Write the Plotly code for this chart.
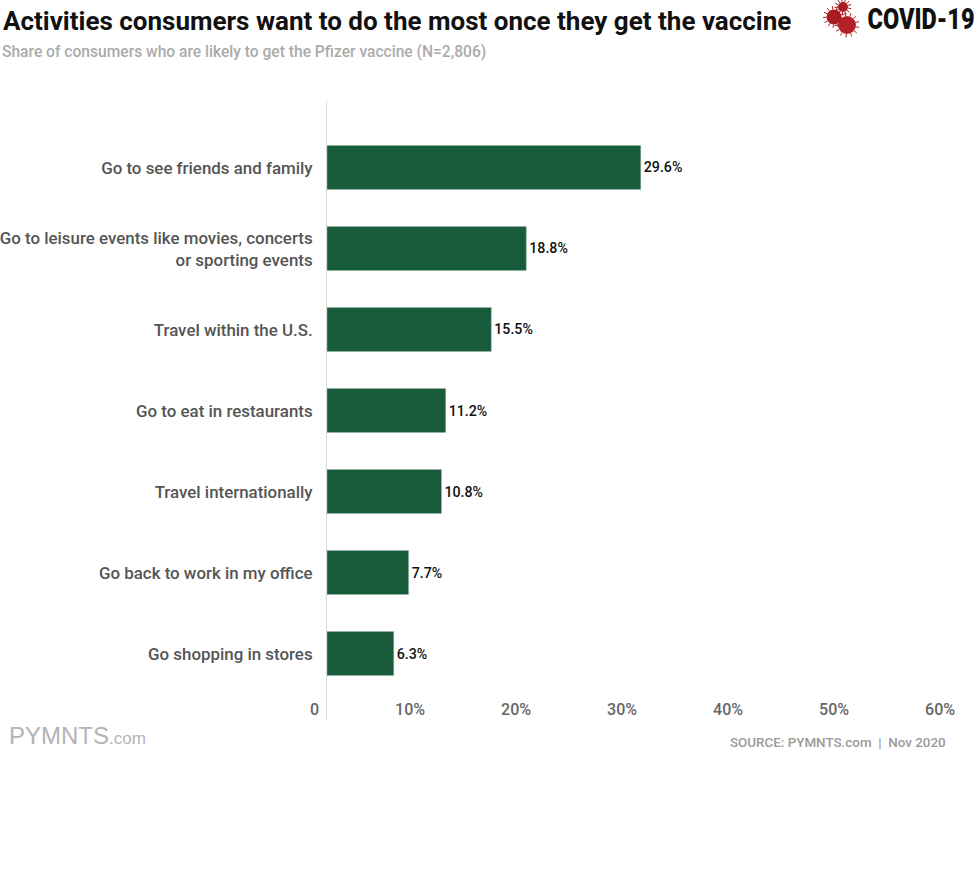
import math
import plotly.graph_objects as go

categories = [
    "Go to see friends and family",
    "Go to leisure events like movies, concerts<br>or sporting events",
    "Travel within the U.S.",
    "Go to eat in restaurants",
    "Travel internationally",
    "Go back to work in my office",
    "Go shopping in stores",
]
values = [29.6, 18.8, 15.5, 11.2, 10.8, 7.7, 6.3]
value_labels = ["29.6%", "18.8%", "15.5%", "11.2%", "10.8%", "7.7%", "6.3%"]
x_ticks = [0, 10, 20, 30, 40, 50, 60]
x_tick_labels = ["0", "10%", "20%", "30%", "40%", "50%", "60%"]

W, H = 977, 877
L, R, T, B = 327, 963, 101, 720
FONT = "Roboto, sans-serif"


def fx(v):
    return (v - L) / (R - L)


def fy(v):
    return (B - v) / (B - T)


fig = go.Figure(
    go.Bar(
        x=values,
        y=categories,
        orientation="h",
        width=0.543,
        marker=dict(color="#185C3C", line=dict(color="#9DB8AB", width=0.5)),
        text=value_labels,
        textposition="outside",
        cliponaxis=False,
        textfont=dict(family=FONT, size=14.2, color="#111111", weight=500),
        hoverinfo="skip",
    )
)

# Decorative logo glyph (three spiky discs)
shapes = []
for cx, cy, r, col in [(834, 17, 7.5, "#A81C22"), (843, 7, 5, "#A81C22"), (847, 25, 9, "#B5202A")]:
    shapes.append(dict(type="circle", xref="paper", yref="paper",
                       x0=fx(cx - r), x1=fx(cx + r), y0=fy(cy + r), y1=fy(cy - r),
                       fillcolor=col, line=dict(width=0), layer="above"))
    for i in range(13):
        a = 2 * math.pi * i / 13 + 0.2
        shapes.append(dict(type="line", xref="paper", yref="paper",
                           x0=fx(cx + r * math.cos(a)), y0=fy(cy + r * math.sin(a)),
                           x1=fx(cx + (r + 3.5) * math.cos(a)), y1=fy(cy + (r + 3.5) * math.sin(a)),
                           line=dict(color=col, width=1), layer="above"))


def page_text(text, x, y, size, color, anchor="left", weight=400, family=FONT):
    return dict(
        text=text, xref="paper", yref="paper",
        x=fx(x), y=fy(y),
        xanchor=anchor, yanchor="middle", showarrow=False,
        font=dict(family=family, size=size, color=color, weight=weight),
    )


annotations = [
    page_text("Activities consumers want to do the most once they get the vaccine", 1, 21, 26, "#111111", weight=700),
    page_text("Share of consumers who are likely to get the Pfizer vaccine (N=2,806)", 0, 52, 15.6, "#ABABAB", weight=500),
    page_text("COVID-19", 920.5, 19, 29, "#111111", anchor="center", weight=900),
    page_text("PYMNTS<span style='font-size:17px'>.com</span>", 7, 735, 24, "#B4B4B4", weight=400, family="'Liberation Sans', sans-serif"),
    page_text("SOURCE: PYMNTS.com  |  Nov 2020", 948, 742, 13.4, "#9A9A9A", anchor="right", weight=500),
]

fig.update_layout(
    width=W, height=H,
    margin=dict(l=L, r=W - R, t=T, b=H - B, autoexpand=False),
    paper_bgcolor="white", plot_bgcolor="white",
    showlegend=False,
    font=dict(family=FONT),
    shapes=shapes,
    annotations=annotations,
    xaxis=dict(
        range=[0, 60], tickmode="array", tickvals=x_ticks, ticktext=x_tick_labels,
        ticklabelposition="inside left", ticklabeloverflow="allow", ticklabelshift=-8,
        ticklabelstandoff=-4, showgrid=False, zeroline=False, ticks="", showline=False,
        tickfont=dict(family=FONT, size=16, color="#666666", weight=500),
    ),
    yaxis=dict(
        range=[6.82, -0.82], type="category", categoryorder="array", categoryarray=categories,
        showgrid=False, zeroline=False, ticks="", ticklen=0, ticklabelstandoff=10, ticklabelshift=-1,
        showline=True, linecolor="#D8D8D8", linewidth=1,
        tickfont=dict(family=FONT, size=16.9, color="#555555", weight=500),
    ),
)

post = """
document.body.style.margin='0';
document.documentElement.style.overflow='hidden';
document.querySelectorAll('.annotation-text').forEach(function(t){
  if (t.textContent === 'COVID-19') {
    var bb = t.getBBox();
    var k = 107 / bb.width;
    var cx = bb.x + bb.width / 2;
    var old = t.getAttribute('transform') || '';
    t.setAttribute('transform', old + ' translate(' + cx + ',0) scale(' + k + ',1) translate(' + (-cx) + ',0)');
  }
});
"""
fig.write_html("out.html", config=dict(displayModeBar=False), post_script=post)
